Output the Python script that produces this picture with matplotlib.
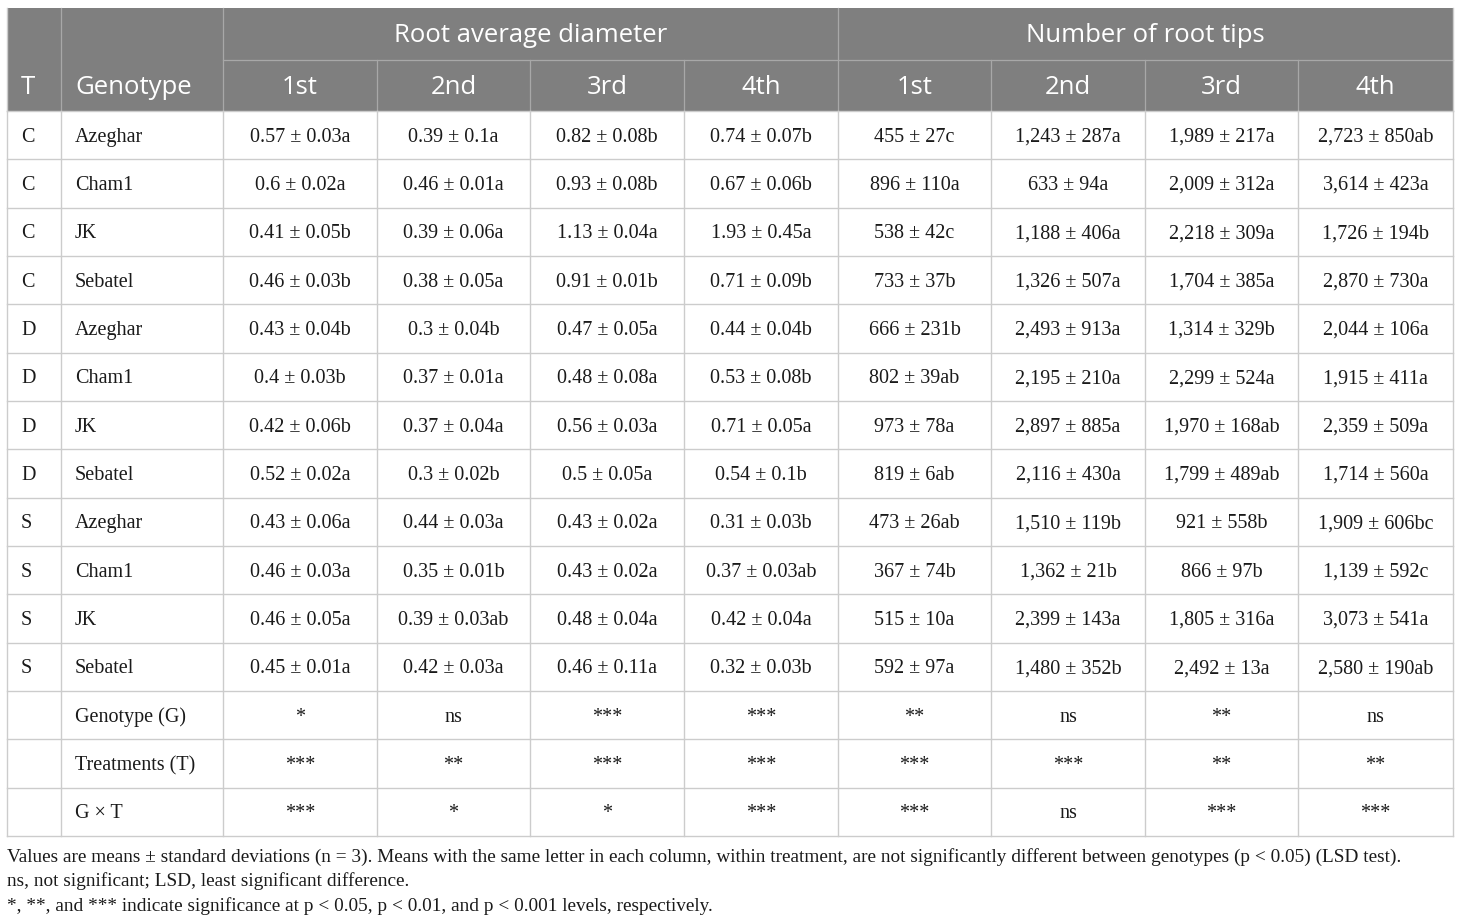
import matplotlib
matplotlib.use("Agg")
import matplotlib.pyplot as plt
from matplotlib.patches import Rectangle

treatments = ["C", "C", "C", "C", "D", "D", "D", "D", "S", "S", "S", "S", "", "", ""]
genotypes = ["Azeghar", "Cham1", "JK", "Sebatel", "Azeghar", "Cham1", "JK", "Sebatel",
             "Azeghar", "Cham1", "JK", "Sebatel", "Genotype (G)", "Treatments (T)", "G × T"]
group_headers = ["Root average diameter", "Number of root tips"]
sub_headers = ["1st", "2nd", "3rd", "4th", "1st", "2nd", "3rd", "4th"]

diam_1st = ["0.57 ± 0.03a", "0.6 ± 0.02a", "0.41 ± 0.05b", "0.46 ± 0.03b", "0.43 ± 0.04b", "0.4 ± 0.03b",
            "0.42 ± 0.06b", "0.52 ± 0.02a", "0.43 ± 0.06a", "0.46 ± 0.03a", "0.46 ± 0.05a", "0.45 ± 0.01a",
            "*", "***", "***"]
diam_2nd = ["0.39 ± 0.1a", "0.46 ± 0.01a", "0.39 ± 0.06a", "0.38 ± 0.05a", "0.3 ± 0.04b", "0.37 ± 0.01a",
            "0.37 ± 0.04a", "0.3 ± 0.02b", "0.44 ± 0.03a", "0.35 ± 0.01b", "0.39 ± 0.03ab", "0.42 ± 0.03a",
            "ns", "**", "*"]
diam_3rd = ["0.82 ± 0.08b", "0.93 ± 0.08b", "1.13 ± 0.04a", "0.91 ± 0.01b", "0.47 ± 0.05a", "0.48 ± 0.08a",
            "0.56 ± 0.03a", "0.5 ± 0.05a", "0.43 ± 0.02a", "0.43 ± 0.02a", "0.48 ± 0.04a", "0.46 ± 0.11a",
            "***", "***", "*"]
diam_4th = ["0.74 ± 0.07b", "0.67 ± 0.06b", "1.93 ± 0.45a", "0.71 ± 0.09b", "0.44 ± 0.04b", "0.53 ± 0.08b",
            "0.71 ± 0.05a", "0.54 ± 0.1b", "0.31 ± 0.03b", "0.37 ± 0.03ab", "0.42 ± 0.04a", "0.32 ± 0.03b",
            "***", "***", "***"]
tips_1st = ["455 ± 27c", "896 ± 110a", "538 ± 42c", "733 ± 37b", "666 ± 231b", "802 ± 39ab",
            "973 ± 78a", "819 ± 6ab", "473 ± 26ab", "367 ± 74b", "515 ± 10a", "592 ± 97a",
            "**", "***", "***"]
tips_2nd = ["1,243 ± 287a", "633 ± 94a", "1,188 ± 406a", "1,326 ± 507a", "2,493 ± 913a", "2,195 ± 210a",
            "2,897 ± 885a", "2,116 ± 430a", "1,510 ± 119b", "1,362 ± 21b", "2,399 ± 143a", "1,480 ± 352b",
            "ns", "***", "ns"]
tips_3rd = ["1,989 ± 217a", "2,009 ± 312a", "2,218 ± 309a", "1,704 ± 385a", "1,314 ± 329b", "2,299 ± 524a",
            "1,970 ± 168ab", "1,799 ± 489ab", "921 ± 558b", "866 ± 97b", "1,805 ± 316a", "2,492 ± 13a",
            "**", "**", "***"]
tips_4th = ["2,723 ± 850ab", "3,614 ± 423a", "1,726 ± 194b", "2,870 ± 730a", "2,044 ± 106a", "1,915 ± 411a",
            "2,359 ± 509a", "1,714 ± 560a", "1,909 ± 606bc", "1,139 ± 592c", "3,073 ± 541a", "2,580 ± 190ab",
            "ns", "**", "***"]
value_cols = [diam_1st, diam_2nd, diam_3rd, diam_4th, tips_1st, tips_2nd, tips_3rd, tips_4th]

footnotes = [
    "Values are means ± standard deviations (n = 3). Means with the same letter in each column, within treatment, are not significantly different between genotypes (p < 0.05) (LSD test).",
    "ns, not significant; LSD, least significant difference.",
    "*, **, and *** indicate significance at p < 0.05, p < 0.01, and p < 0.001 levels, respectively.",
]

# layout (pixels)
W, H = 1460, 923
col_x = [7, 61, 223, 377, 530, 684, 838, 991, 1145, 1298, 1453]
head_top, head_mid, head_bot = 8, 60, 111
table_bot = 836
n_rows = len(genotypes)
row_h = (table_bot - head_bot) / n_rows

header_bg = "#7f7f7f"
grid_col = "#cccccc"
serif = ["Liberation Serif", "DejaVu Serif"]
sans = ["Open Sans", "DejaVu Sans"]

fig = plt.figure(figsize=(W / 100, H / 100), dpi=100)
ax = fig.add_axes([0, 0, 1, 1])
ax.set_xlim(0, W)
ax.set_ylim(H, 0)
ax.axis("off")

# header background
ax.add_patch(Rectangle((col_x[0], head_top), col_x[-1] - col_x[0], head_bot - head_top,
                       facecolor=header_bg, edgecolor="none", zorder=1))

hdr_line = "#a8a8a8"
for x in [col_x[1], col_x[2], col_x[6]]:
    ax.plot([x, x], [head_top, head_bot], color=hdr_line, lw=0.9, zorder=2)
for x in [col_x[3], col_x[4], col_x[5], col_x[7], col_x[8], col_x[9]]:
    ax.plot([x, x], [head_mid, head_bot], color=hdr_line, lw=0.9, zorder=2)
ax.plot([col_x[2], col_x[-1]], [head_mid, head_mid], color=hdr_line, lw=0.9, zorder=2)

hfs = 18.5
hy2 = (head_mid + head_bot) / 2 + 2.5
hy1 = (head_top + head_mid) / 2 + 2
ax.text(col_x[0] + 14, hy2, "T", color="white", fontsize=hfs,
        family=sans, ha="left", va="center", zorder=3)
ax.text(col_x[1] + 14, hy2, "Genotype", color="white", fontsize=hfs,
        family=sans, ha="left", va="center", zorder=3)
ax.text((col_x[2] + col_x[6]) / 2, hy1, group_headers[0], color="white",
        fontsize=hfs, family=sans, ha="center", va="center", zorder=3)
ax.text((col_x[6] + col_x[10]) / 2, hy1, group_headers[1], color="white",
        fontsize=hfs, family=sans, ha="center", va="center", zorder=3)
for j, lab in enumerate(sub_headers):
    ax.text((col_x[2 + j] + col_x[3 + j]) / 2, hy2, lab, color="white",
            fontsize=hfs, family=sans, ha="center", va="center", zorder=3)

# body grid
for i in range(n_rows + 1):
    y = head_bot + i * row_h
    ax.plot([col_x[0], col_x[-1]], [y, y], color=grid_col, lw=1.0, zorder=2)
for x in col_x:
    ax.plot([x, x], [head_bot, table_bot], color=grid_col, lw=1.0, zorder=2)
ax.plot([col_x[0], col_x[0]], [head_top, head_bot], color=grid_col, lw=1.0, zorder=2)
ax.plot([col_x[-1], col_x[-1]], [head_top, head_bot], color=grid_col, lw=1.0, zorder=2)

bfs = 14.5
for i in range(n_rows):
    yc = head_bot + (i + 0.5) * row_h + 2
    ax.text(col_x[0] + 14, yc, treatments[i], fontsize=bfs, family=serif, ha="left", va="center",
            color="#1a1a1a")
    ax.text(col_x[1] + 14, yc, genotypes[i], fontsize=bfs, family=serif, ha="left", va="center",
            color="#1a1a1a")
    for j, col in enumerate(value_cols):
        ax.text((col_x[2 + j] + col_x[3 + j]) / 2, yc, col[i], fontsize=bfs, family=serif,
                ha="center", va="center", color="#1a1a1a")

ffs = 13.85
for k, line in enumerate(footnotes):
    ax.text(col_x[0], 857 + k * 24.5, line, fontsize=ffs, family=serif, ha="left", va="center",
            color="#1a1a1a")

fig.savefig("out.png", dpi=100, facecolor="white")
